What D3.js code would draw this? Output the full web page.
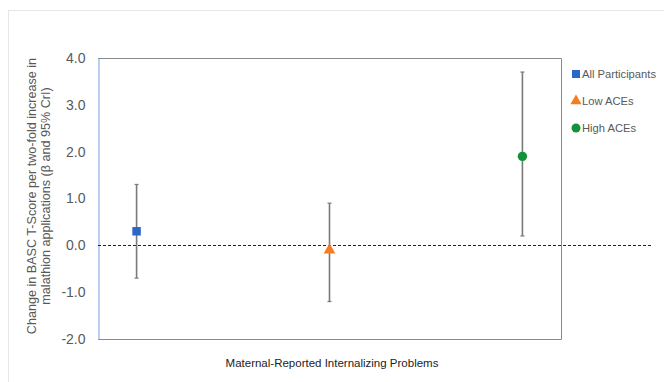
<!DOCTYPE html>
<html>
<head>
<meta charset="utf-8">
<script src="https://cdn.jsdelivr.net/npm/d3@7"></script>
<style>
  html, body { margin: 0; padding: 0; background: #ffffff; }
  svg { display: block; font-family: "Liberation Sans", Arial, sans-serif; }
</style>
</head>
<body>
<svg id="chart" width="664" height="382"></svg>
<script>
// Estimates (β) with 95% credible intervals, one group per row
const groups = ["All Participants", "Low ACEs", "High ACEs"];
const estimates = [0.3, -0.1, 1.9];
const lowerCI = [-0.7, -1.2, 0.2];
const upperCI = [1.3, 0.9, 3.7];
const yTicks = [4, 3, 2, 1, 0, -1, -2];
const xLabel = "Maternal-Reported Internalizing Problems";
const yLabelLines = [
  "Change in BASC T-Score per two-fold increase in",
  "malathion applications (β and 95% CrI)"
];
const colors = ["#2a67c9", "#f77b22", "#13923a"];
const shapes = [d3.symbolSquare, d3.symbolTriangle, d3.symbolCircle];
const shapeSizes = [72, 60, 70];

const svg = d3.select("#chart");
const plot = { left: 98, top: 58, right: 561, bottom: 339 };

// light outer frame of the figure panel
svg.append("rect")
  .attr("x", 8.5).attr("y", 10.5)
  .attr("width", 700).attr("height", 400)
  .attr("fill", "none").attr("stroke", "#e6e6e6");

const y = d3.scaleLinear().domain([-2, 4]).range([plot.bottom, plot.top]);
const x = d3.scalePoint().domain(groups).range([plot.left, plot.right]).padding(0.2);

// plot frame: grey top/right/bottom
svg.append("path")
  .attr("d", `M${plot.left},${plot.top + 0.5}H${plot.right + 0.5}V${plot.bottom + 0.5}H${plot.left}`)
  .attr("fill", "none").attr("stroke", "#8a8a8a").attr("stroke-width", 1);

// y axis (blue line, labels only; plain hyphen for negatives)
const yAxis = d3.axisLeft(y).tickValues(yTicks).tickFormat(d => d.toFixed(1)).tickSize(0).tickPadding(13);
const gy = svg.append("g").attr("transform", `translate(${plot.left + 0.5},0)`).call(yAxis);
gy.select(".domain").attr("stroke", "#8fb0e3").attr("stroke-width", 1.2);
gy.selectAll("text")
  .attr("fill", "#595959")
  .attr("font-size", 14)
  .attr("font-family", "Liberation Sans, Arial, sans-serif");

// zero reference line
svg.append("line")
  .attr("x1", plot.left).attr("x2", 653)
  .attr("y1", Math.round(y(0)) + 0.5).attr("y2", Math.round(y(0)) + 0.5)
  .attr("stroke", "#222").attr("stroke-width", 1)
  .attr("stroke-dasharray", "3,2");

// credible intervals
const rows = groups.map((g, i) => ({ g, est: estimates[i], lo: lowerCI[i], hi: upperCI[i], i }));
const bars = svg.append("g").attr("stroke", "#7a7a7a");
bars.selectAll("line.ci").data(rows).join("line")
  .attr("class", "ci")
  .attr("x1", d => x(d.g)).attr("x2", d => x(d.g))
  .attr("y1", d => y(d.hi)).attr("y2", d => y(d.lo))
  .attr("stroke-width", 1.6);
["hi", "lo"].forEach(k => {
  bars.selectAll("line.cap-" + k).data(rows).join("line")
    .attr("class", "cap-" + k)
    .attr("x1", d => x(d.g) - 2).attr("x2", d => x(d.g) + 2)
    .attr("y1", d => y(d[k])).attr("y2", d => y(d[k]))
    .attr("stroke-width", 1.2);
});

// point estimates
svg.append("g").selectAll("path").data(rows).join("path")
  .attr("transform", d => `translate(${x(d.g)},${y(d.est)})`)
  .attr("d", d => d3.symbol(shapes[d.i], shapeSizes[d.i])())
  .attr("fill", d => colors[d.i]);

// legend
const legend = svg.append("g").attr("transform", "translate(576,74)");
const li = legend.selectAll("g").data(groups).join("g")
  .attr("transform", (d, i) => `translate(0,${i * 27})`);
li.append("path")
  .attr("d", (d, i) => d3.symbol(shapes[i], shapeSizes[i] * 0.9)())
  .attr("fill", (d, i) => colors[i]);
li.append("text")
  .attr("x", 6).attr("y", 4)
  .attr("font-size", 11.2).attr("fill", "#595959")
  .text(d => d);

// x axis title
svg.append("text")
  .attr("x", 332).attr("y", 367)
  .attr("text-anchor", "middle")
  .attr("font-size", 11.5).attr("fill", "#222")
  .text(xLabel);

// y axis title (two lines, rotated)
const yt = svg.append("text")
  .attr("transform", "translate(32,196) rotate(-90)")
  .attr("text-anchor", "middle")
  .attr("font-size", 12.6).attr("fill", "#595959");
yLabelLines.forEach((t, i) => {
  yt.append("tspan").attr("x", 0).attr("dy", i === 0 ? "0.35em" : "1.05em").text(t);
});
</script>
</body>
</html>
